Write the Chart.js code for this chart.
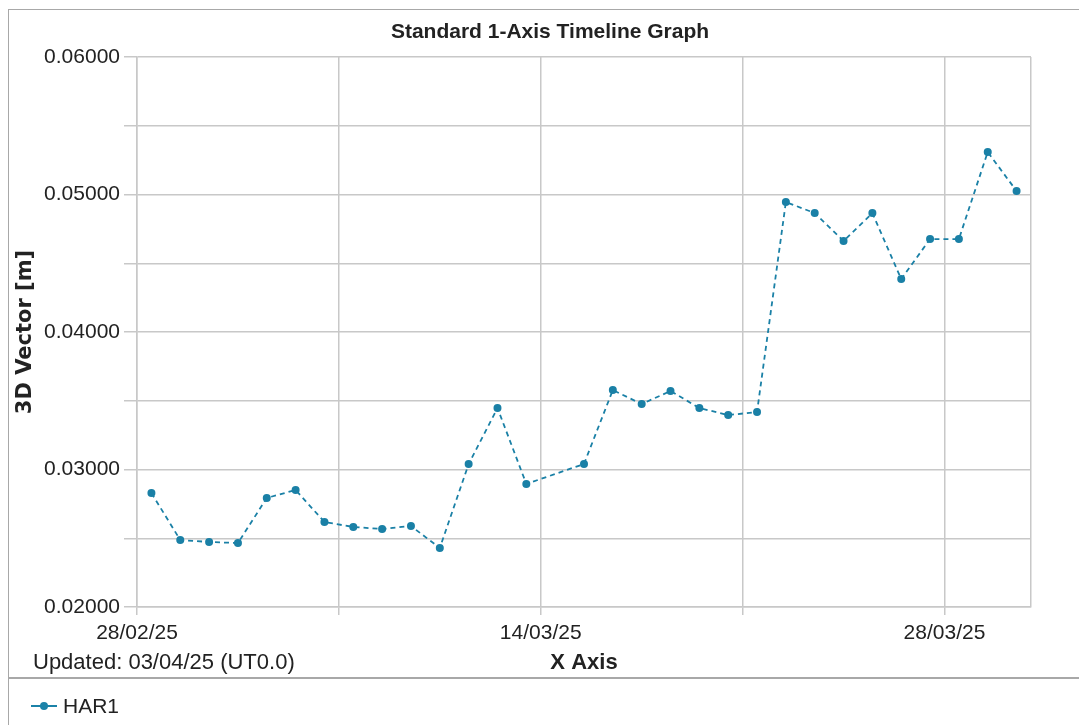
<!DOCTYPE html>
<html>
<head>
<meta charset="utf-8">
<script src="https://cdn.jsdelivr.net/npm/chart.js@4.4.1/dist/chart.umd.min.js"></script>
<style>
  body { margin: 0; background: #fff; font-family: "Liberation Sans", Arial, sans-serif; }
  #wrap { position: absolute; left: 0; top: 0; width: 1079px; height: 725px; overflow: hidden; }
  #frame { position: absolute; left: 8px; top: 9px; width: 1080px; height: 730px; border: 1px solid #a8a8a8; box-sizing: border-box; }
  #sep { position: absolute; left: 8px; top: 677px; width: 1080px; height: 0; border-top: 2px solid #a8a8a8; }
  #chartBox { position: absolute; left: 0; top: 0; width: 1079px; height: 678px; }
  #title { position: absolute; left: 0; top: 18px; width: 1100px; text-align: center; font-size: 21px; line-height: 26px; font-weight: bold; color: #222; }
  #updated { position: absolute; left: 33px; top: 649px; font-size: 22px; line-height: 26px; color: #222; }
  #legend { position: absolute; left: 31px; top: 693px; height: 26px; display: flex; align-items: center; font-size: 21px; color: #222; }
  #legend .mark { position: relative; width: 26px; height: 2px; background: #1b82a8; margin-right: 6px; }
  #legend .mark::after { content: ""; position: absolute; left: 9px; top: -3px; width: 8px; height: 8px; border-radius: 50%; background: #1b82a8; }
</style>
</head>
<body>
<div id="wrap">
  <div id="frame"></div>
  <div id="sep"></div>
  <div id="chartBox"><canvas id="myChart"></canvas></div>
  <div id="title">Standard 1-Axis Timeline Graph</div>
  <div id="updated">Updated: 03/04/25 (UT0.0)</div>
  <div id="legend"><span class="mark"></span><span>HAR1</span></div>
</div>
<script>
// observation dates (daily, noon UT) - 14/03 missing in the source
var dates = ['2025-02-28','2025-03-01','2025-03-02','2025-03-03','2025-03-04','2025-03-05',
  '2025-03-06','2025-03-07','2025-03-08','2025-03-09','2025-03-10','2025-03-11','2025-03-12',
  '2025-03-13','2025-03-15','2025-03-16','2025-03-17','2025-03-18','2025-03-19','2025-03-20',
  '2025-03-21','2025-03-22','2025-03-23','2025-03-24','2025-03-25','2025-03-26','2025-03-27',
  '2025-03-28','2025-03-29','2025-03-30']

var har1 = [0.02829, 0.02487, 0.02473, 0.02465, 0.02793, 0.02851,
  0.02618, 0.02582, 0.02567, 0.02589, 0.02429, 0.03040, 0.03447,
  0.02895, 0.03040, 0.03578, 0.03476, 0.03571, 0.03447, 0.03396,
  0.03418, 0.04945, 0.04865, 0.04662, 0.04865, 0.04385, 0.04676,
  0.04676, 0.05309, 0.05025]

// x axis grid dates and their labels
var xTickDates = ['2025-02-28','2025-03-07','2025-03-14','2025-03-21','2025-03-28']
var xTickLabels = ['28/02/25','','14/03/25','','28/03/25']
var xStart = '2025-02-28'
var xEnd = '2025-03-31'

var yMin = 0.02, yMax = 0.06, yStep = 0.005

function dayOf(d, hour){
    return (Date.parse(d + 'T00:00:00Z') - Date.parse(xStart + 'T00:00:00Z')) / 864e5 + (hour || 0) / 24
}

var points = dates.map((d, i) => ({ x: dayOf(d, 12), y: har1[i] }))
var tickDays = xTickDates.map(d => dayOf(d))
var endDay = dayOf(xEnd)

var lineColor = '#1a80a6'
var gridColor = '#c8c8c8'
var font = '"Liberation Sans", Arial, sans-serif'

var ctx = document.getElementById('myChart').getContext('2d');
var lineChart = new Chart(ctx, {
  type: 'line',
  data: {
    datasets: [{
      label: 'HAR1',
      data: points,
      borderColor: lineColor,
      backgroundColor: lineColor,
      borderWidth: 1.8,
      borderDash: [5, 4],
      pointRadius: 4,
      pointBorderWidth: 0,
      lineTension: 0
    }]
  },
  options: {
    responsive: true,
    maintainAspectRatio: false,
    animation: false,
    layout: { padding: { left: 10, right: 48, top: 57, bottom: 0 } },
    plugins: {
      legend: { display: false },
      tooltip: { enabled: false },
      title: { display: false }
    },
    scales: {
      x: {
        type: 'linear',
        min: 0,
        max: endDay,
        afterBuildTicks: s => { s.ticks = tickDays.concat([endDay]).map(v => ({ value: v })) },
        afterFit: s => { s.height = 71 },
        grid: {
          color: gridColor,
          lineWidth: 1.5,
          tickLength: 8,
          tickColor: c => (c.tick && c.tick.value === endDay) ? 'rgba(0,0,0,0)' : gridColor
        },
        border: { color: gridColor, width: 1.5 },
        ticks: {
          autoSkip: false,
          maxRotation: 0,
          padding: 6,
          color: '#222',
          font: { family: font, size: 21 },
          callback: v => {
            var i = tickDays.indexOf(v)
            return i >= 0 ? xTickLabels[i] : ''
          }
        },
        title: {
          display: true,
          text: 'X Axis',
          color: '#222',
          font: { family: font, size: 22, weight: 'bold' },
          padding: { top: 0, bottom: 2 }
        }
      },
      y: {
        min: yMin,
        max: yMax,
        afterFit: s => { s.width = 127 },
        grid: { color: gridColor, lineWidth: 1.5, tickLength: 13 },
        border: { color: gridColor, width: 1.5 },
        ticks: {
          stepSize: yStep,
          padding: 4,
          color: '#222',
          font: { family: font, size: 21 },
          callback: v => (Math.abs(Math.round(v * 100) - v * 100) < 1e-6) ? v.toFixed(5) : ''
        },
        title: {
          display: true,
          text: '3D Vector [m]',
          color: '#222',
          font: { family: '"DejaVu Sans", sans-serif', size: 21, weight: 'bold' },
          padding: { top: 3, bottom: 0 }
        }
      }
    }
  }
});
</script>
</body>
</html>
